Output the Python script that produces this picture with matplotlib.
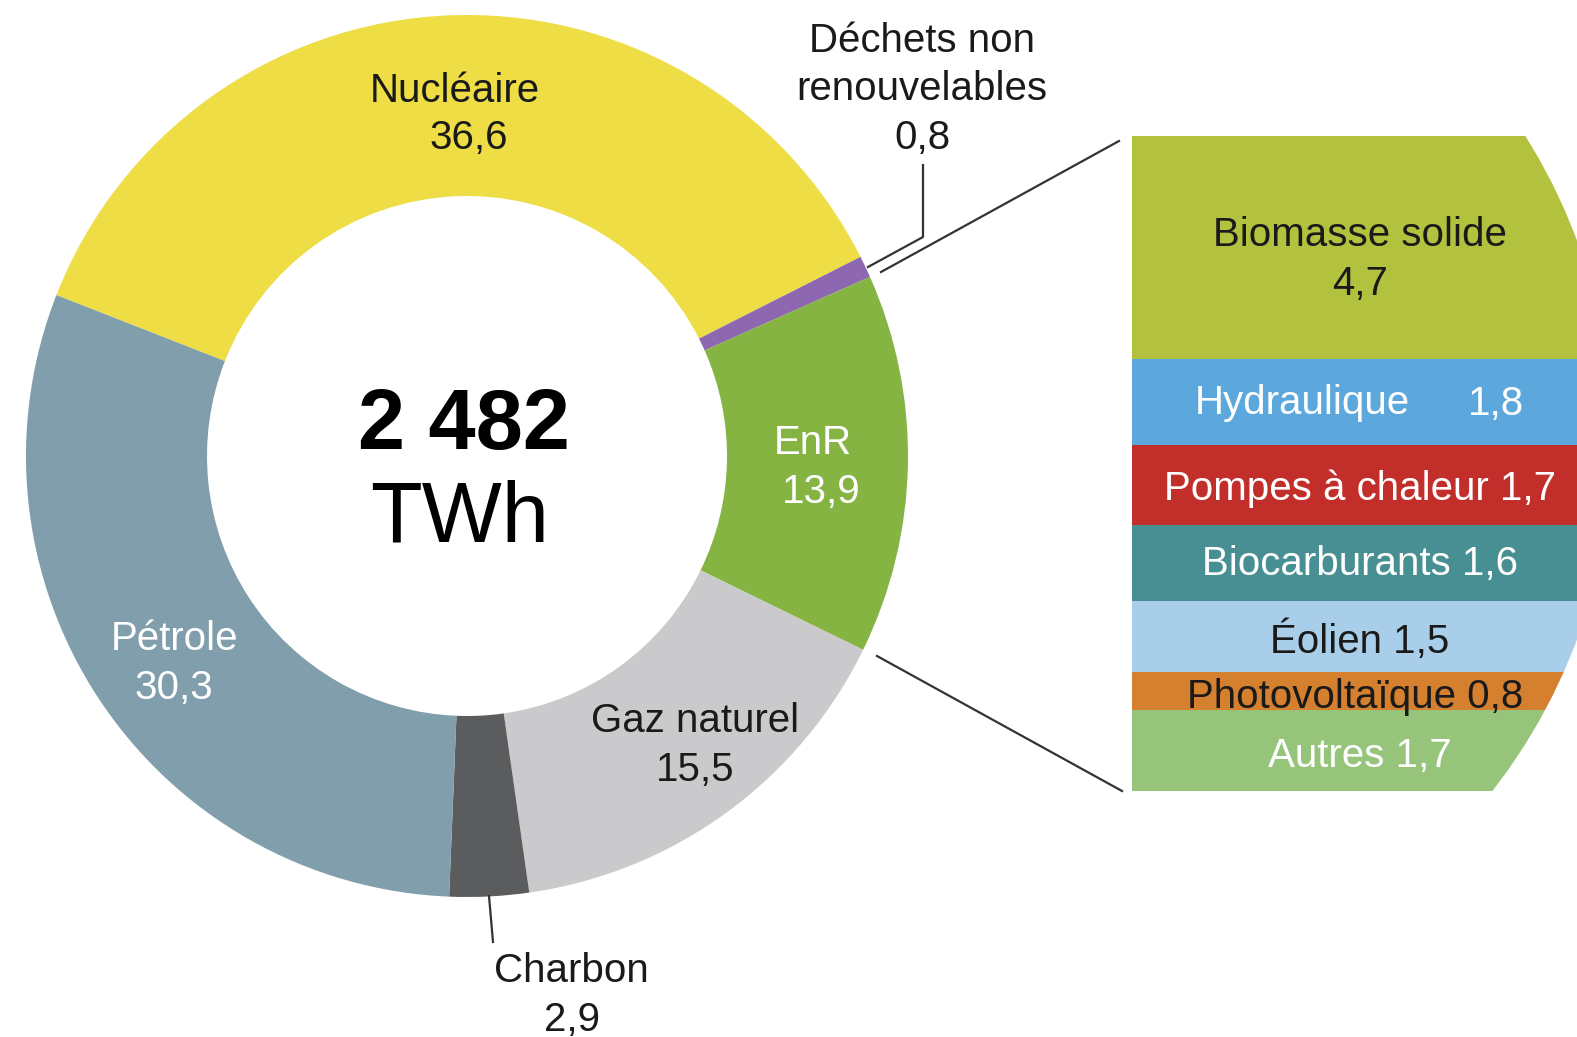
import matplotlib.pyplot as plt
from matplotlib.patches import Circle

W, H = 1577, 1037

# donut: part de chaque énergie (%)
sources = ['Nucléaire', 'Déchets non renouvelables', 'EnR', 'Gaz naturel', 'Charbon', 'Pétrole']
parts = [36.6, 0.8, 13.9, 15.5, 2.9, 30.3]
couleurs = ['#EEDD44', '#8D68B0', '#86B443', '#CACACC', '#5B5C5E', '#809EAB']

# détail des EnR (%)
enr = ['Biomasse solide', 'Hydraulique', 'Pompes à chaleur', 'Biocarburants',
       'Éolien', 'Photovoltaïque', 'Autres']
enr_parts = [4.7, 1.8, 1.7, 1.6, 1.5, 0.8, 1.7]
enr_couleurs = ['#B3C23E', '#5CA8DC', '#C22F2B', '#478F92', '#A8CEEA', '#D4802F', '#96C47B']

total = '2 482'
unite = 'TWh'

plt.rcParams['font.family'] = ['Liberation Sans', 'DejaVu Sans']

fig = plt.figure(figsize=(W / 100, H / 100), dpi=100)
ax = fig.add_axes([0, 0, 1, 1])


def Y(y):
    # coordonnées image (y vers le bas) -> données (y vers le haut)
    return H - y


cx, cy = 467, 456
R, r = 441, 260
ax.pie(parts, colors=couleurs, startangle=158.6, counterclock=False,
       center=(cx, Y(cy)), radius=R,
       wedgeprops=dict(width=R - r, edgecolor='none', linewidth=0))

# barre empilée du détail EnR, bord droit arrondi
bar_top, bar_bot = 136, 791
k = (bar_bot - bar_top) / sum(enr_parts)
clip = Circle((1042, Y(440)), 571, transform=ax.transData)
bas = Y(bar_top)
for nom, v, c in zip(enr, enr_parts, enr_couleurs):
    bars = ax.bar(1132, -v * k, width=500, bottom=bas, align='edge', color=c,
                  edgecolor='none', linewidth=0)
    for b in bars:
        b.set_clip_path(clip)
    bas -= v * k

# traits
lc = '#333333'
ax.plot([868, 923, 923], [Y(267), Y(237), Y(165)], color=lc, lw=1.6)
ax.plot([881, 1119], [Y(272), Y(141)], color=lc, lw=1.6)
ax.plot([877, 1122], [Y(656), Y(791)], color=lc, lw=1.6)
ax.plot([489, 493], [Y(896), Y(942)], color=lc, lw=1.6)


def lab(x, y, s, col='#1a1a1a', size=29):
    ax.text(x, Y(y + size * 0.5), s, ha='center', va='baseline',
            fontsize=size, color=col)


noir, blanc = '#1a1a1a', 'white'
lab(455, 88, 'Nucléaire')
lab(469, 135, '36,6')
lab(922, 37, 'Déchets non')
lab(922, 86, 'renouvelables')
lab(922, 134, '0,8')
lab(813, 439, 'EnR', blanc)
lab(821, 488, '13,9', blanc)
lab(175, 636, 'Pétrole', blanc)
lab(174, 685, '30,3', blanc)
lab(695, 718, 'Gaz naturel')
lab(695, 766, '15,5')
lab(571, 968, 'Charbon')
lab(572, 1016, '2,9')

lab(1360, 232, 'Biomasse solide')
lab(1360, 281, '4,7')
lab(1302, 400, 'Hydraulique', blanc)
lab(1496, 400, '1,8', blanc)
lab(1360, 485, 'Pompes à chaleur 1,7', blanc)
lab(1360, 560, 'Biocarburants 1,6', blanc)
lab(1360, 638, 'Éolien 1,5')
lab(1355, 693, 'Photovoltaïque 0,8')
lab(1360, 752, 'Autres 1,7', blanc)

ax.text(464, Y(449), total, ha='center', va='baseline', fontsize=61,
        fontweight='bold', color='black')
ax.text(460, Y(542), unite, ha='center', va='baseline', fontsize=61,
        color='black')

ax.set_xlim(0, W)
ax.set_ylim(0, H)
ax.set_aspect('equal')
ax.axis('off')

fig.savefig('out.png', dpi=100, facecolor='white')
